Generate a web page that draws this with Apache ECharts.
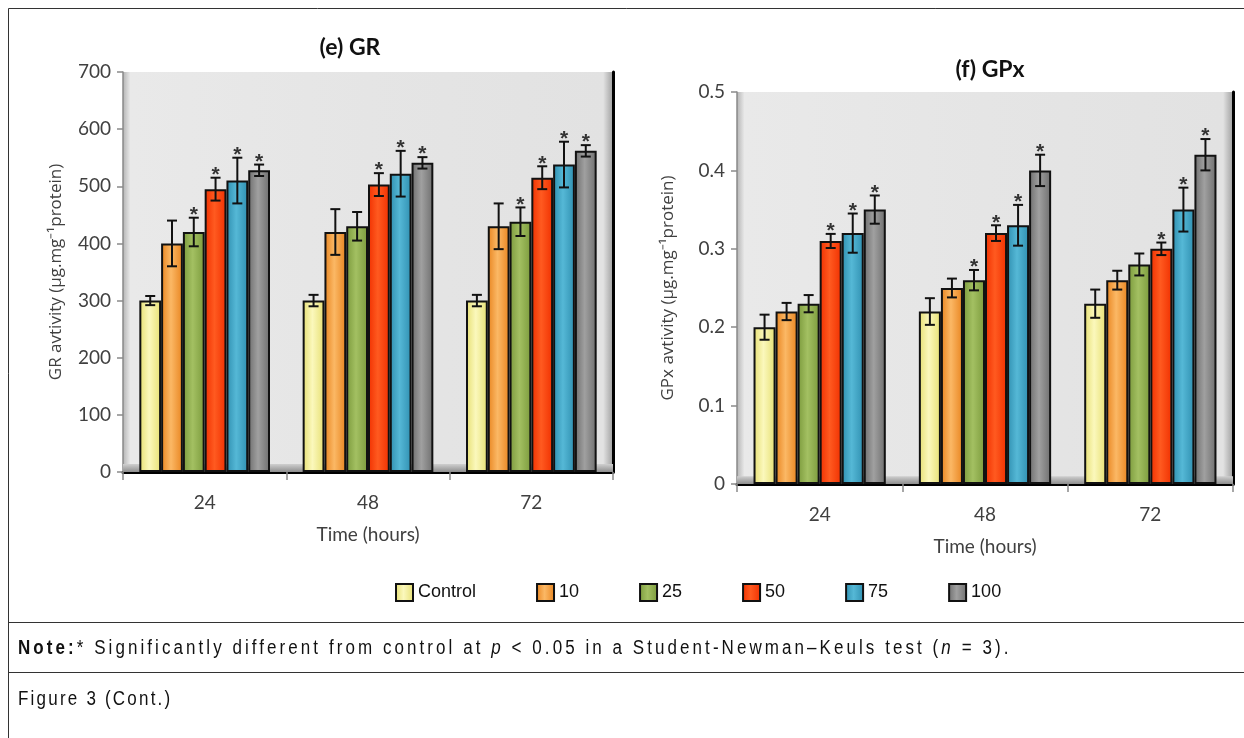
<!DOCTYPE html>
<html>
<head>
<meta charset="utf-8">
<script src="https://cdn.jsdelivr.net/npm/echarts@6/dist/echarts.min.js"></script>
<style>
html, body { margin: 0; padding: 0; background: #fff; }
#wrap { position: relative; width: 1244px; height: 738px; }
#main { width: 1244px; height: 738px; }
.txt { position: absolute; left: 18px; font-family: "Liberation Sans", Arial, sans-serif;
       font-size: 20px; color: #111; white-space: nowrap; line-height: 24px;
       transform: scaleX(0.85); transform-origin: 0 50%; }
#note { top: 635px; letter-spacing: 3.6px; }
#caption { top: 686px; letter-spacing: 2.6px; }
</style>
</head>
<body>
<div id="wrap">
<div id="main"></div>
<div class="txt" id="note"><b>Note:</b>* Significantly different from control at <i>p</i> &lt; 0.05 in a Student-Newman–Keuls test (<i>n</i> = 3).</div>
<div class="txt" id="caption">Figure 3 (Cont.)</div>
</div>
<script>
var categories = ['24', '48', '72'];
var groups = ['Control', '10', '25', '50', '75', '100'];

// GR activity, one row per dose, one value per time point
var grMean = [
    [300, 300, 300],
    [400, 420, 430],
    [420, 430, 438],
    [495, 503, 515],
    [510, 522, 538],
    [528, 541, 562]
];
var grErr = [
    [8, 10, 10],
    [40, 40, 40],
    [25, 25, 25],
    [20, 20, 20],
    [40, 40, 40],
    [10, 10, 10]
];
var grStar = [
    [0, 0, 0],
    [0, 0, 0],
    [1, 0, 1],
    [1, 1, 1],
    [1, 1, 1],
    [1, 1, 1]
];

// GPx activity
var gpxMean = [
    [0.20, 0.22, 0.23],
    [0.22, 0.25, 0.26],
    [0.23, 0.26, 0.28],
    [0.31, 0.32, 0.30],
    [0.32, 0.33, 0.35],
    [0.35, 0.40, 0.42]
];
var gpxErr = [
    [0.016, 0.017, 0.018],
    [0.011, 0.012, 0.012],
    [0.011, 0.013, 0.014],
    [0.009, 0.010, 0.008],
    [0.025, 0.026, 0.028],
    [0.018, 0.020, 0.020]
];
var gpxStar = [
    [0, 0, 0],
    [0, 0, 0],
    [0, 1, 0],
    [1, 1, 1],
    [1, 1, 1],
    [1, 1, 1]
];

var grTicks = { min: 0, max: 700, interval: 100 };
var gpxTicks = { min: 0, max: 0.5, interval: 0.1 };

// edge / centre colours for each dose
var barColors = [
    ['#e6df72', '#fbf8bc'],
    ['#e8841f', '#fbb865'],
    ['#7b9a3c', '#a3c062'],
    ['#f03000', '#ff5a20'],
    ['#2f8fb0', '#55b8d6'],
    ['#6e6e6e', '#a0a0a0']
];

var chartDom = document.getElementById('main');
var myChart = echarts.init(chartDom);

function barFill(i) {
    return new echarts.graphic.LinearGradient(0, 0, 1, 0, [
        { offset: 0, color: barColors[i][0] },
        { offset: 0.45, color: barColors[i][1] },
        { offset: 1, color: barColors[i][0] }
    ]);
}

var plotBg = new echarts.graphic.LinearGradient(0, 0, 1, 0, [
    { offset: 0, color: '#b5b5b5' },
    { offset: 0.015, color: '#e9e9e9' },
    { offset: 0.5, color: '#e5e5e5' },
    { offset: 0.98, color: '#e2e2e2' },
    { offset: 1, color: '#a0a0a0' }
]);

function errorRender(params, api) {
    var cat = api.value(0), val = api.value(1), err = api.value(2);
    var s = api.value(3), star = api.value(4);
    var band = api.size([1, 0])[0];
    var bw = band * 0.8 / groups.length;
    var x = api.coord([cat, val])[0] - band * 0.4 + (s + 0.5) * bw;
    var yHi = api.coord([cat, val + err])[1];
    var yLo = api.coord([cat, val - err])[1];
    var cap = 5;
    var st = { stroke: '#111', lineWidth: 2 };
    var children = [
        { type: 'line', shape: { x1: x, y1: yHi, x2: x, y2: yLo }, style: st },
        { type: 'line', shape: { x1: x - cap, y1: yHi, x2: x + cap, y2: yHi }, style: st },
        { type: 'line', shape: { x1: x - cap, y1: yLo, x2: x + cap, y2: yLo }, style: st }
    ];
    if (star) {
        children.push({
            type: 'text',
            style: {
                text: '*', x: x, y: yHi + 8, align: 'center', verticalAlign: 'bottom',
                fill: '#333', font: 'bold 21px "Liberation Sans"'
            }
        });
    }
    return { type: 'group', children: children };
}

var series = [];
function addChart(mean, err, star, xi, yi, floorTop) {
    var errData = [];
    groups.forEach(function (g, i) {
        var s = {
            name: g,
            type: 'bar',
            xAxisIndex: xi,
            yAxisIndex: yi,
            barCategoryGap: '20%',
            barGap: '0%',
            itemStyle: { color: barFill(i), borderColor: '#111', borderWidth: 2 },
            data: mean[i]
        };
        if (i == 0) {
            s.markArea = {
                silent: true,
                itemStyle: {
                    color: new echarts.graphic.LinearGradient(0, 0, 0, 1, [
                        { offset: 0, color: '#cfcfcf' },
                        { offset: 1, color: '#8e8e8e' }
                    ])
                },
                data: [[{ yAxis: 0 }, { yAxis: floorTop }]]
            };
        }
        series.push(s);
        for (var c = 0; c < categories.length; c++) {
            errData.push([c, mean[i][c], err[i][c], i, star[i][c]]);
        }
    });
    series.push({
        name: 'err' + xi,
        type: 'custom',
        xAxisIndex: xi,
        yAxisIndex: yi,
        z: 5,
        silent: true,
        renderItem: errorRender,
        data: errData
    });
}
addChart(grMean, grErr, grStar, 0, 0, 14);
addChart(gpxMean, gpxErr, gpxStar, 2, 2, 0.01);

var axisFont = { fontFamily: 'Lato', fontSize: 19, color: '#404040' };

function bottomX(gi) {
    return {
        type: 'category', gridIndex: gi, data: categories,
        name: 'Time (hours)', nameLocation: 'middle', nameGap: 53,
        nameTextStyle: { fontFamily: 'Lato', fontSize: 19, color: '#404040' },
        axisLine: { lineStyle: { color: '#8a8a8a', width: 1.5 } },
        axisTick: { show: true, length: 8, lineStyle: { color: '#8a8a8a', width: 1.5 } },
        axisLabel: Object.assign({ margin: 21 }, axisFont)
    };
}
function topX(gi) {
    return {
        type: 'category', gridIndex: gi, data: categories, position: 'top',
        axisLine: { lineStyle: { color: '#000', width: 3 } },
        axisTick: { show: false }, axisLabel: { show: false }
    };
}
function leftY(gi, t, name, gap) {
    return {
        type: 'value', gridIndex: gi, min: t.min, max: t.max, interval: t.interval,
        name: name, nameLocation: 'middle', nameGap: gap,
        nameTextStyle: { fontFamily: 'Open Sans', fontSize: 17, color: '#404040' },
        axisLine: { show: true, lineStyle: { color: '#8a8a8a', width: 1.5 } },
        axisTick: { show: true, length: 6, lineStyle: { color: '#8a8a8a', width: 1.5 } },
        axisLabel: Object.assign({ margin: 12 }, axisFont),
        splitLine: { show: false }
    };
}
function rightY(gi, t) {
    return {
        type: 'value', gridIndex: gi, min: t.min, max: t.max, interval: t.interval,
        position: 'right',
        axisLine: { show: true, lineStyle: { color: '#000', width: 3 } },
        axisTick: { show: false }, axisLabel: { show: false }, splitLine: { show: false }
    };
}

var option = {
    backgroundColor: '#fff',
    animation: false,
    grid: [
        { left: 123, top: 72, width: 490, height: 400, show: true, backgroundColor: plotBg, borderWidth: 0 },
        { left: 737, top: 92, width: 496, height: 392, show: true, backgroundColor: plotBg, borderWidth: 0 }
    ],
    xAxis: [bottomX(0), topX(0), bottomX(1), topX(1)],
    yAxis: [
        leftY(0, grTicks, 'GR avtivity (µg.mg⁻¹protein)', 58),
        rightY(0, grTicks),
        leftY(1, gpxTicks, 'GPx avtivity (µg.mg⁻¹protein)', 60),
        rightY(1, gpxTicks)
    ],
    legend: {
        data: groups,
        left: 390,
        top: 578,
        icon: 'rect',
        itemWidth: 17,
        itemHeight: 17,
        itemGap: 60,
        textStyle: { fontFamily: 'Liberation Sans', fontSize: 18, color: '#111' }
    },
    graphic: [
        { type: 'rect', silent: true, shape: { x: 8.5, y: 8.5, width: 1240, height: 740 },
          style: { fill: 'none', stroke: '#333', lineWidth: 1 } },
        { type: 'line', silent: true, shape: { x1: 8, y1: 622.5, x2: 1244, y2: 622.5 },
          style: { stroke: '#333', lineWidth: 1 } },
        { type: 'line', silent: true, shape: { x1: 8, y1: 672.5, x2: 1244, y2: 672.5 },
          style: { stroke: '#333', lineWidth: 1 } },
        { type: 'text', silent: true, x: 350, y: 48,
          style: { text: '(e) GR', align: 'center', verticalAlign: 'middle',
                   font: 'bold 23px Lato', fill: '#111' } },
        { type: 'text', silent: true, x: 990, y: 70,
          style: { text: '(f) GPx', align: 'center', verticalAlign: 'middle',
                   font: 'bold 23px Lato', fill: '#111' } }
    ],
    series: series
};

if (option && typeof option === "object") {
    myChart.setOption(option, true);
}
</script>
</body>
</html>
